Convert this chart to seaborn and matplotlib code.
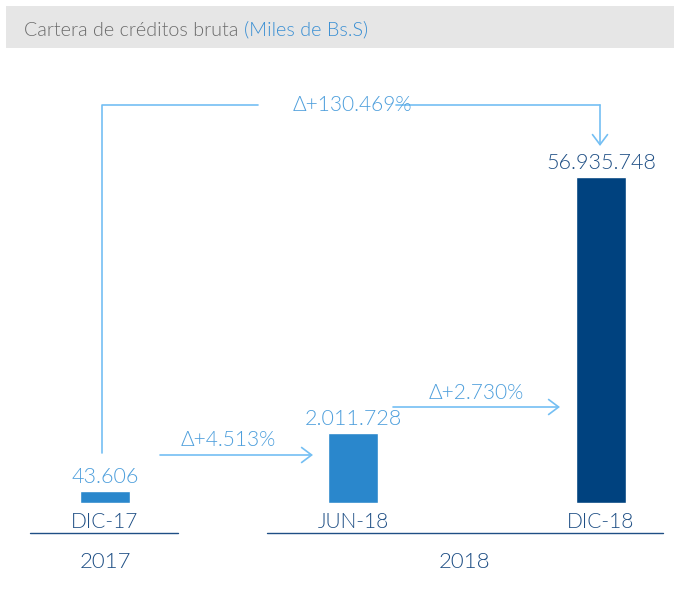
import numpy as np
import matplotlib.pyplot as plt
import seaborn as sns
from matplotlib.lines import Line2D
from matplotlib.patches import Rectangle

# ---------------------------------------------------------------
# Datos
# ---------------------------------------------------------------
periodos = ["DIC-17", "JUN-18", "DIC-18"]
cartera = [43606, 2011728, 56935748]
colores = ["#2a87cc", "#2a87cc", "#00427f"]
anios = ["2017", "2018"]
variaciones = ["Δ+4.513%", "Δ+2.730%", "Δ+130.469%"]

titulo = "Cartera de créditos bruta"
unidad = "(Miles de Bs.S)"

# ---------------------------------------------------------------
# Estilo
# ---------------------------------------------------------------
sns.set_theme(style="white")
plt.rcParams["font.family"] = ["Lato", "DejaVu Sans"]
plt.rcParams["font.weight"] = 300

AZUL_OSC = "#1f4f85"
AZUL_TXT = "#4e9fdc"
AZUL_FLECHA = "#74bff3"

W, H = 674, 600
fig = plt.figure(figsize=(W / 100, H / 100), dpi=100)

# escala de potencia: las barras del original no son proporcionales
P = 0.46
fwd = lambda v: np.sign(v) * np.abs(v) ** P
inv = lambda v: np.sign(v) * np.abs(v) ** (1 / P)

# ejes de barras: 0 -> x=105px, paso 248px, base en y=503px
x0, paso = 105, 248
base, techo = 503, 60
ax = fig.add_axes([0, 1 - base / H, 1, (base - techo) / H])
sns.barplot(x=periodos, y=cartera, hue=periodos, palette=colores,
            width=50 / paso, legend=False, ax=ax, saturation=1)
ax.set_xlim(-x0 / paso, (W - x0) / paso)
ax.set_yscale("function", functions=(fwd, inv))
alto_max = fwd(max(cartera)) * (base - techo) / (base - 177)
ax.set_ylim(0, inv(alto_max))
ax.axis("off")

for i, v in enumerate(cartera):
    etiqueta = f"{v:,}".replace(",", ".")
    color = AZUL_OSC if i == len(cartera) - 1 else AZUL_TXT
    ax.annotate(etiqueta, xy=(i, v), xytext=(0, 6), textcoords="offset points",
                ha="center", va="baseline", fontsize=15.5, color=color)
    ax.annotate(periodos[i], xy=(i, 0), xytext=(0, -18), textcoords="offset points",
                ha="center", va="baseline", fontsize=15, color=AZUL_OSC)

# capa de adornos en pixeles
ov = fig.add_axes([0, 0, 1, 1], zorder=-1)
ov.set_xlim(0, W)
ov.set_ylim(H, 0)
ov.axis("off")
ov2 = fig.add_axes([0, 0, 1, 1], zorder=5)
ov2.set_xlim(0, W)
ov2.set_ylim(H, 0)
ov2.axis("off")
ov2.patch.set_alpha(0)

# cabecera
ov.add_patch(Rectangle((6, 6), W - 6, 42, color="#e6e6e6", lw=0))
t = ov2.text(24, 30, titulo + " ", fontsize=14.2, color="#6b6b6b", va="center")
ov2.annotate(unidad, xycoords=t, xy=(1, 0), va="bottom", fontsize=14.2, color="#3a8fd3")

# lineas de anio
ov2.add_line(Line2D([30, 178], [533, 533], color=AZUL_OSC, lw=1))
ov2.add_line(Line2D([267, 663], [533, 533], color=AZUL_OSC, lw=1))
ov2.text(105, 562, anios[0], ha="center", va="center", fontsize=16, color=AZUL_OSC)
ov2.text(465, 562, anios[1], ha="center", va="center", fontsize=16, color=AZUL_OSC)

# flechas
flecha = dict(arrowstyle="->,head_length=0.4,head_width=0.3", mutation_scale=18,
              lw=1.2, color=AZUL_FLECHA, shrinkA=0, shrinkB=0)
ov2.annotate("", xy=(313, 455), xytext=(160, 455), arrowprops=flecha)
ov2.text(228, 440, variaciones[0], ha="center", va="center", fontsize=15, color=AZUL_TXT)
ov2.annotate("", xy=(560, 407), xytext=(393, 407), arrowprops=flecha)
ov2.text(476, 393, variaciones[1], ha="center", va="center", fontsize=15, color=AZUL_TXT)

ov2.add_line(Line2D([102, 102, 258], [453, 105, 105], color=AZUL_FLECHA, lw=1.2))
ov2.add_line(Line2D([396, 600], [105, 105], color=AZUL_FLECHA, lw=1.2))
ov2.annotate("", xy=(600, 146), xytext=(600, 105), arrowprops=flecha)
ov2.text(352, 105, variaciones[2], ha="center", va="center", fontsize=15, color=AZUL_TXT)

fig.savefig("out.png", dpi=100)
